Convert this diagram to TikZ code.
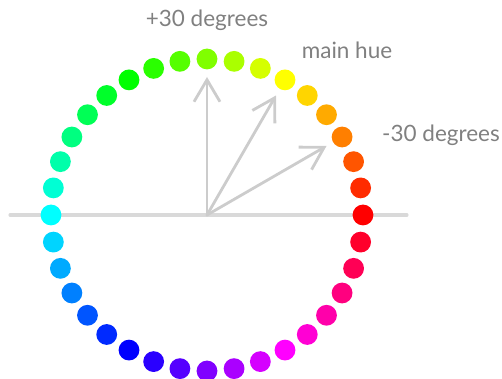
\documentclass[tikz,border=0pt]{standalone}
\usepackage{fontspec}
\setmainfont{Lato}
\usepackage{tikz}
\usetikzlibrary{arrows.meta}

\begin{document}
\begin{tikzpicture}[x=0.025cm,y=0.025cm]
\useasboundingbox (-207,-164) rectangle (295,215);
\coordinate (o) at (0,0);
\coordinate (west) at (-197,0);
\coordinate (east) at (200,0);
\coordinate (tip90) at (90:138);
\coordinate (tip60) at (60:138);
\coordinate (tip30) at (30:138);
\draw[black!15,line width=2.2pt,line cap=round] (west) -- (east);
\begin{scope}[every node/.style={circle,inner sep=0pt,minimum size=0.52cm}]
\foreach \a in {0,10,...,350} {
    \definecolor{huehsb}{Hsb}{\a,1,1}
    \colorlet{huecol}[rgb]{huehsb}
    \node[fill=huecol] (d\a) at (\a:156) {};
}
\end{scope}
\begin{scope}[>={Straight Barb[length=0.55cm,width=0.65cm]},
              every node/.style={text=black!50,font=\fontsize{16}{19}\selectfont},
              grey_edge/.style={draw=black!20,line width=2pt,line cap=round}]
    \path [->] (o) edge [grey_edge] (tip90);
    \path [->] (o) edge [grey_edge] (tip60);
    \path [->] (o) edge [grey_edge] (tip30);
    \node (plus) at (0,195) {+30 degrees};
    \node (main) at (140,165) {main hue};
    \node (minus) at (234,80) {-30 degrees};
\end{scope}
\end{tikzpicture}
\end{document}
